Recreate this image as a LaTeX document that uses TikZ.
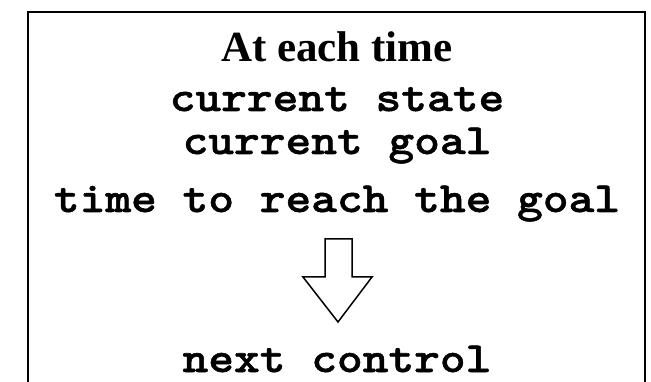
\documentclass[tikz,border=0pt]{standalone}
\usepackage{fontspec}
\setmainfont{Liberation Serif}
\newfontfamily\codefont{lmmonolt10-bold}[Extension=.otf,FakeBold=1.2,FakeStretch=1.14]
\begin{document}
\begin{tikzpicture}[x=1pt,y=-1pt,
  titletext/.style={anchor=base,inner sep=0pt,font=\fontsize{43}{43}\selectfont\bfseries},
  codetext/.style={anchor=base,inner sep=0pt,font=\fontsize{43}{43}\selectfont\codefont},
  frame/.style={draw=black,line width=2pt},
  bigarrow/.style={draw=black,line width=1.5pt,fill=white,line join=miter}]
\useasboundingbox (0,0) rectangle (651,382);
\draw[frame] (28,382) -- (28,12) -- (645,12) -- (645,382);
\node[titletext] (title) at (337,62) {At each time};
\node[codetext] (state) at (337,111) {current state};
\node[codetext] (goal) at (337,154) {current goal};
\node[codetext] (time) at (337,212) {time to reach the goal};
\node[codetext] (next) at (337,372) {next control};
\draw[bigarrow] (325,239) -- (352,239) -- (352,277) -- (372,277) -- (338,322) -- (303,277) -- (325,277) -- cycle;
\end{tikzpicture}
\end{document}
